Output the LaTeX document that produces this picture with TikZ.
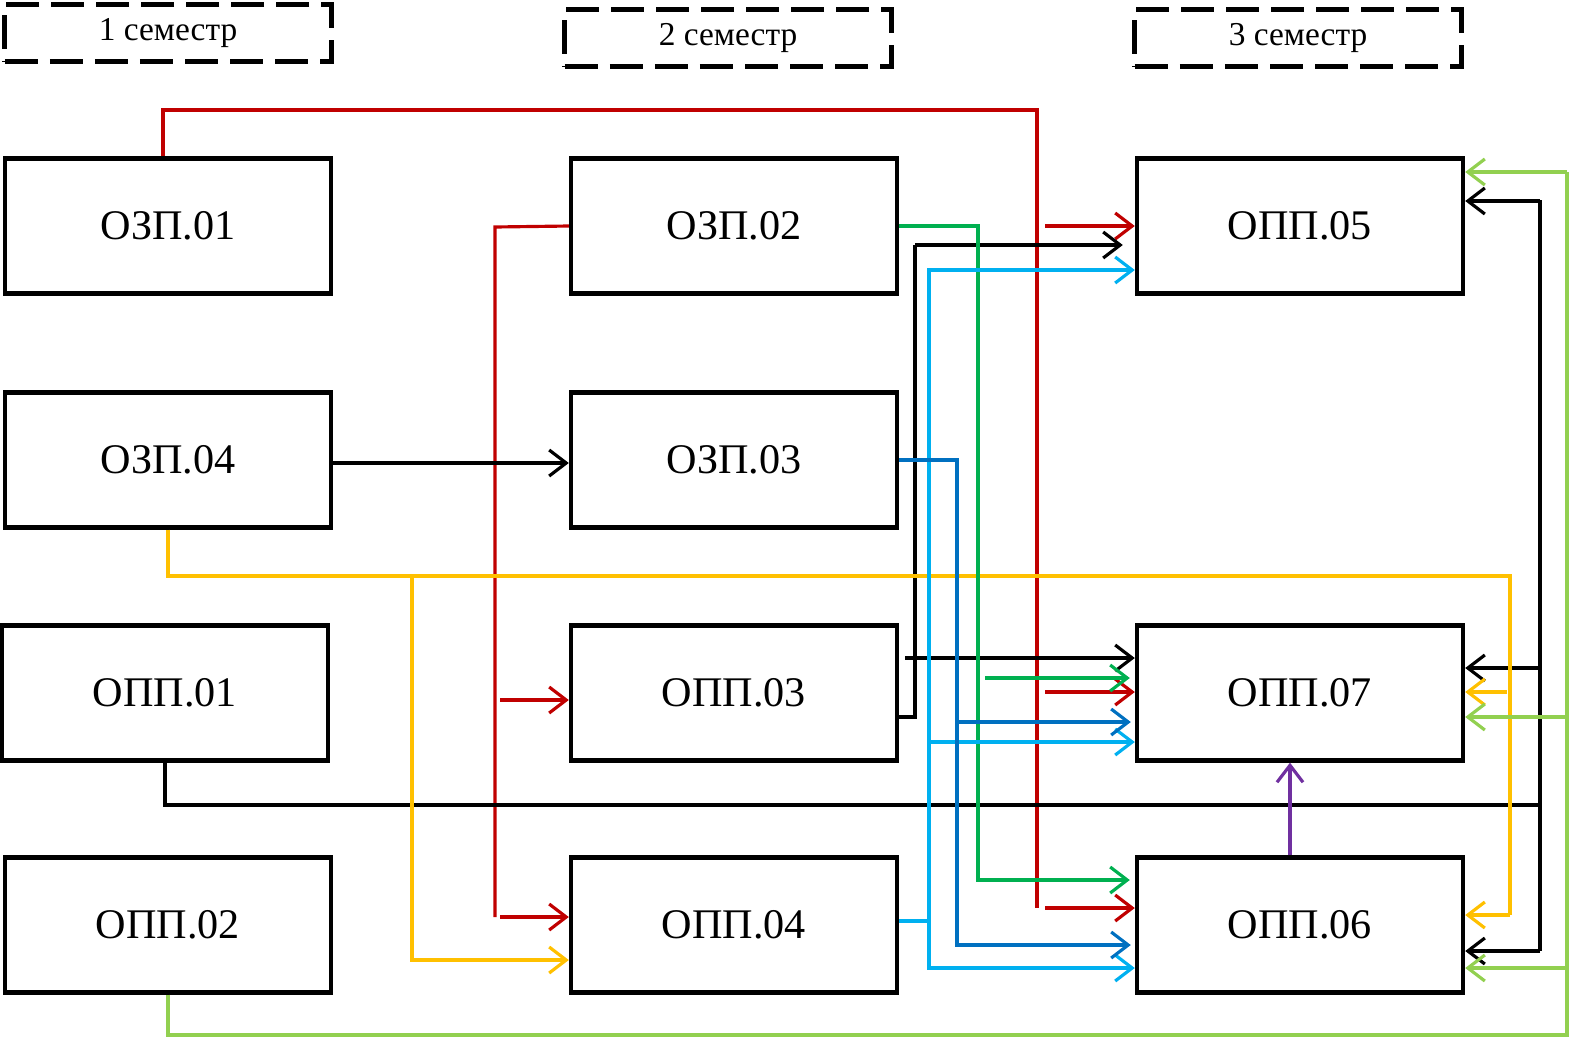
\documentclass[tikz,border=0pt]{standalone}
\usepackage{fontspec}
\setmainfont{Liberation Serif}
\usetikzlibrary{positioning,arrows.meta,calc}
\definecolor{rd}{HTML}{C00000}
\definecolor{ye}{HTML}{FFC000}
\definecolor{gn}{HTML}{00B050}
\definecolor{lg}{HTML}{92D050}
\definecolor{lb}{HTML}{00B0F0}
\definecolor{mb}{HTML}{0070C0}
\definecolor{pu}{HTML}{7030A0}

\begin{document}
\begin{tikzpicture}[
    x=0.01cm, y=-0.01cm,
    box/.style={draw, line width=1.2pt, minimum width=3.26cm,
                minimum height=1.35cm, inner sep=0pt, align=center,
                font=\fontsize{12}{14}\selectfont},
    sem/.style={draw, dash pattern=on 3.3mm off 1.2mm, line width=1.4pt,
                minimum width=3.26cm, minimum height=0.57cm, inner sep=0pt,
                font=\fontsize{9.5}{11}\selectfont},
    con/.style={line width=0.9pt},
    arr/.style={con, -{Straight Barb[length=1.7mm, width=2.6mm]}},
]
  \useasboundingbox (0,0) rectangle (1573,1042);

  % semesters
  \node[sem] (sem1) at (168,33) {1 семестр};
  \node[sem] (sem2) at (728,38) {2 семестр};
  \node[sem] (sem3) at (1298,38) {3 семестр};

  % disciplines
  \node[box] (ozp01) at (168,226) {ОЗП.01};
  \node[box] (ozp04) at (168,460) {ОЗП.04};
  \node[box] (opp01) at (165,693) {ОПП.01};
  \node[box] (opp02) at (168,925) {ОПП.02};
  \node[box] (ozp02) at (734,226) {ОЗП.02};
  \node[box] (ozp03) at (734,460) {ОЗП.03};
  \node[box] (opp03) at (734,693) {ОПП.03};
  \node[box] (opp04) at (734,925) {ОПП.04};
  \node[box] (opp05) at (1300,226) {ОПП.05};
  \node[box] (opp07) at (1300,693) {ОПП.07};
  \node[box] (opp06) at (1300,925) {ОПП.06};

  % bus points
  \coordinate (rdtop) at (1037,110);
  \coordinate (rdbus) at (495,227);
  \coordinate (bkbus) at (915,245);
  \coordinate (bkbus2) at (1540,805);
  \coordinate (yebus) at (1510,576);
  \coordinate (yebus2) at (412,576);
  \coordinate (gnbus) at (978,226);
  \coordinate (lgbus) at (1567,1035);
  \coordinate (lbbus) at (929,921);
  \coordinate (mbbus) at (957,460);

  % red
  \draw[con, rd] ([xshift=-0.05cm]ozp01.north) |- (rdtop) -- (rdtop |- 0,908);
  \draw[arr, rd, shorten <=0.08cm] (rdtop |- 0,226) -- (opp05.west);
  \draw[arr, rd, shorten <=0.08cm] (rdtop |- 0,692) -- (opp07.west |- 0,692);
  \draw[arr, rd, shorten <=0.08cm] (rdtop |- 0,908) -- (opp06.west |- 0,908);
  \draw[con, rd] (ozp02.west) -- (rdbus) -- (rdbus |- 0,917);
  \draw[arr, rd, shorten <=0.05cm] (rdbus |- 0,700) -- (opp03.west |- 0,700);
  \draw[arr, rd, shorten <=0.05cm] (rdbus |- 0,917) -- (opp04.west |- 0,917);

  % black
  \draw[arr] (ozp04.east |- 0,463) -- (ozp03.west |- 0,463);
  \draw[con] (opp03.east |- 0,717) -| (bkbus);
  \draw[arr, shorten >=0.12cm] (bkbus) -- (opp05.west |- bkbus);
  \draw[arr, shorten <=0.06cm] (opp03.east |- 0,658) -- (opp07.west |- 0,658);
  \draw[con] (opp01.south) |- (bkbus2);
  \draw[con] (bkbus2 |- 0,200) -- (bkbus2 |- 0,951);
  \draw[arr] (bkbus2 |- 0,201) -- (opp05.east |- 0,201);
  \draw[arr] (bkbus2 |- 0,668) -- (opp07.east |- 0,668);
  \draw[arr] (bkbus2 |- 0,951) -- (opp06.east |- 0,951);

  % yellow
  \draw[con, ye] (ozp04.south) |- (yebus) -- (yebus |- 0,915);
  \draw[arr, ye] (yebus |- 0,915) -- (opp06.east |- 0,915);
  \draw[arr, ye, shorten <=0.03cm] (yebus |- 0,692) -- (opp07.east |- 0,692);
  \draw[arr, ye] (yebus2) |- (opp04.west |- 0,960);

  % green
  \draw[arr, gn, shorten >=0.05cm] (ozp02.east) -| (gnbus |- 0,880)
    -- (opp06.west |- 0,880);
  \draw[arr, gn, shorten <=0.07cm, shorten >=0.05cm] (gnbus |- 0,678)
    -- (opp07.west |- 0,678);

  % light green
  \draw[con, lg] (opp02.south) |- (lgbus) -- (lgbus |- 0,172);
  \draw[arr, lg] (lgbus |- 0,172) -- (opp05.east |- 0,172);
  \draw[arr, lg] (lgbus |- 0,717) -- (opp07.east |- 0,717);
  \draw[arr, lg] (lgbus |- 0,968) -- (opp06.east |- 0,968);

  % light blue
  \draw[arr, lb] (opp04.east |- 0,921) -| (lbbus |- 0,270)
    -- (opp05.west |- 0,270);
  \draw[arr, lb] (lbbus) |- (opp06.west |- 0,968);
  \draw[arr, lb] (lbbus |- 0,742) -- (opp07.west |- 0,742);

  % blue
  \draw[arr, mb, shorten >=0.04cm] (ozp03.east) -- (mbbus)
    |- (opp06.west |- 0,945);
  \draw[arr, mb, shorten >=0.04cm] (mbbus |- 0,722) -- (opp07.west |- 0,722);

  % purple
  \draw[arr, pu] ([xshift=-0.1cm]opp06.north) -- ([xshift=-0.1cm]opp07.south);
\end{tikzpicture}
\end{document}
